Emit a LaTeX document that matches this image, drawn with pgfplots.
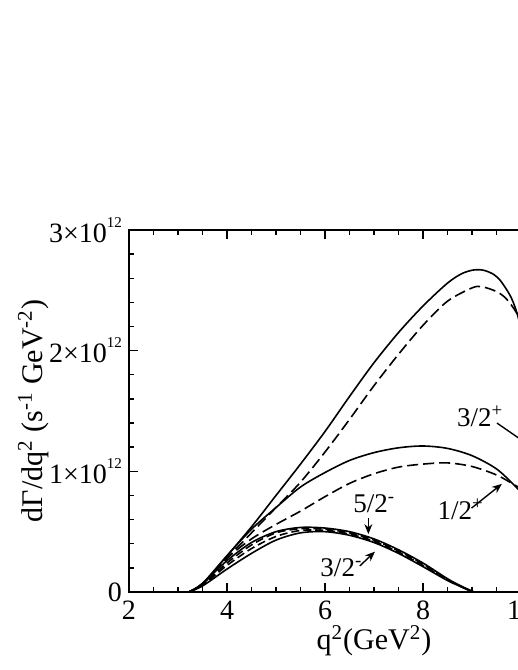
\documentclass[border=0pt]{standalone}
\usepackage{fontspec}
\setmainfont{Liberation Serif}
\usepackage{pgfplots}
\pgfplotsset{compat=1.18}
\usetikzlibrary{arrows.meta}

\newcommand\tsup[1]{\raisebox{7.5pt}{\fontsize{7.5}{7.5}\selectfont #1}}

% y values in units of 10^12 s^-1 GeV^-2
\pgfplotstableread{
x     y
3.22  0
3.5   0.07
4.0   0.30
4.5   0.54
5.0   0.80
5.5   1.06
6.0   1.33
6.5   1.62
7.0   1.90
7.5   2.15
8.0   2.37
8.5   2.56
8.8   2.64
9.05  2.67
9.25  2.665
9.45  2.63
9.6   2.57
9.8   2.44
9.94  2.28
10.05 2.05
10.2  1.6
}\threehalfplus
\pgfplotstableread{
x     y
3.22  0
3.5   0.065
4.0   0.28
4.5   0.49
5.0   0.70
5.5   0.91
6.0   1.16
6.5   1.43
7.0   1.71
7.5   1.97
8.0   2.21
8.5   2.41
9.0   2.52
9.2   2.53
9.5   2.49
9.7   2.43
9.9   2.32
10.0  2.22
10.2  1.9
}\threehalfplusd
\pgfplotstableread{
x     y
3.22  0
3.5   0.07
4.0   0.30
4.5   0.52
5.0   0.70
5.5   0.87
6.0   0.99
6.5   1.09
7.0   1.155
7.5   1.195
8.0   1.21
8.5   1.19
9.0   1.13
9.5   1.02
9.9   0.87
10.2  0.74
}\halfplus
\pgfplotstableread{
x     y
3.22  0
3.5   0.065
4.0   0.28
4.5   0.44
5.0   0.56
5.5   0.67
6.0   0.79
6.5   0.90
7.0   0.98
7.5   1.035
8.0   1.06
8.5   1.07
9.0   1.04
9.5   0.97
9.9   0.88
10.2  0.81
}\halfplusd
\pgfplotstableread{
x     y
3.22  0
3.5   0.07
4.0   0.26
4.5   0.41
5.0   0.50
5.5   0.535
6.0   0.53
6.5   0.50
7.0   0.44
7.5   0.35
8.0   0.24
8.5   0.11
8.8   0.045
9.05  0
}\cA
\pgfplotstableread{
x     y
3.22  0
3.5   0.06
4.0   0.24
4.5   0.39
5.0   0.49
5.5   0.525
6.0   0.52
6.5   0.49
7.0   0.43
7.5   0.34
8.0   0.23
8.5   0.10
8.8   0.04
9.02  0
}\cB
\pgfplotstableread{
x     y
3.22  0
3.5   0.055
4.0   0.22
4.5   0.36
5.0   0.46
5.5   0.51
6.0   0.51
6.5   0.48
7.0   0.42
7.5   0.33
8.0   0.22
8.5   0.10
8.8   0.04
9.0   0
}\cC
\pgfplotstableread{
x     y
3.22  0
3.5   0.05
4.0   0.19
4.5   0.32
5.0   0.43
5.5   0.49
6.0   0.50
6.5   0.47
7.0   0.41
7.5   0.32
8.0   0.21
8.5   0.095
8.8   0.04
9.0   0
}\cD

\begin{document}
\begin{tikzpicture}
\useasboundingbox (-64.5pt,-39pt) rectangle (194.5pt,296pt);
\clip (-64.5pt,-39pt) rectangle (194.5pt,296pt);
\begin{axis}[
  at={(0,0)}, anchor=south west,
  scale only axis,
  width=245pt, height=181pt,
  xmin=2, xmax=12, ymin=0, ymax=3,
  xtick={2,4,6,8,10,12},
  xticklabels={2,4,6,8,10,12},
  minor x tick num=3,
  ytick={0,1,2,3},
  yticklabels={0,1×10\tsup{12},2×10\tsup{12},3×10\tsup{12}},
  minor y tick num=4,
  tick align=inside,
  major tick length=4.5pt,
  minor tick length=2.5pt,
  axis line style={line width=0.9pt},
  every tick/.style={black, line width=0.7pt},
  tick label style={font=\fontsize{14}{14}\selectfont},
  xticklabel style={yshift=-1pt},
  xlabel={q\textsuperscript{2}(GeV\textsuperscript{2})},
  ylabel={dΓ/dq\textsuperscript{2} (s\textsuperscript{-1} GeV\textsuperscript{-2})},
  label style={font=\fontsize{15}{15}\selectfont},
  xlabel style={at={(axis description cs:0.5,-0.135)}, anchor=center},
  ylabel style={at={(axis description cs:-0.195,0.5)}, anchor=center},
  every axis plot/.append style={line width=0.8pt, smooth},
  dsh/.style={dash pattern=on 5.5pt off 2.5pt},
  sdsh/.style={dash pattern=on 4pt off 2pt},
]
\addplot[black] table {\threehalfplus};
\addplot[black, dsh] table {\threehalfplusd};
\addplot[black] table {\halfplus};
\addplot[black, dsh] table {\halfplusd};
\addplot[black] table {\cA};
\addplot[black, sdsh] table {\cB};
\addplot[black, sdsh] table {\cC};
\addplot[black] table {\cD};

\begin{scope}[font=\fontsize{13.5}{13.5}\selectfont]
\node[anchor=base west, inner sep=0pt] at (axis cs:8.69,1.37) {3/2\textsuperscript{+}};
\draw[line width=0.7pt] (axis cs:9.51,1.40) -- (axis cs:10.4,1.15);
\node[anchor=base west, inner sep=0pt] at (axis cs:8.29,0.60) {1/2\textsuperscript{+}};
\draw[line width=0.7pt, -{Stealth[length=5pt,width=4pt]}] (axis cs:8.99,0.695) -- (axis cs:9.61,0.896);
\node[anchor=base west, inner sep=0pt] at (axis cs:6.57,0.656) {5/2\textsuperscript{-}};
\draw[line width=0.7pt, -{Stealth[length=5pt,width=4pt]}] (axis cs:6.885,0.61) -- (axis cs:6.885,0.48);
\node[anchor=base west, inner sep=0pt] at (axis cs:5.9,0.125) {3/2\textsuperscript{-}};
\draw[line width=0.7pt, -{Stealth[length=5pt,width=4pt]}] (axis cs:6.71,0.216) -- (axis cs:7.02,0.335);
\end{scope}
\end{axis}
\end{tikzpicture}
\end{document}
